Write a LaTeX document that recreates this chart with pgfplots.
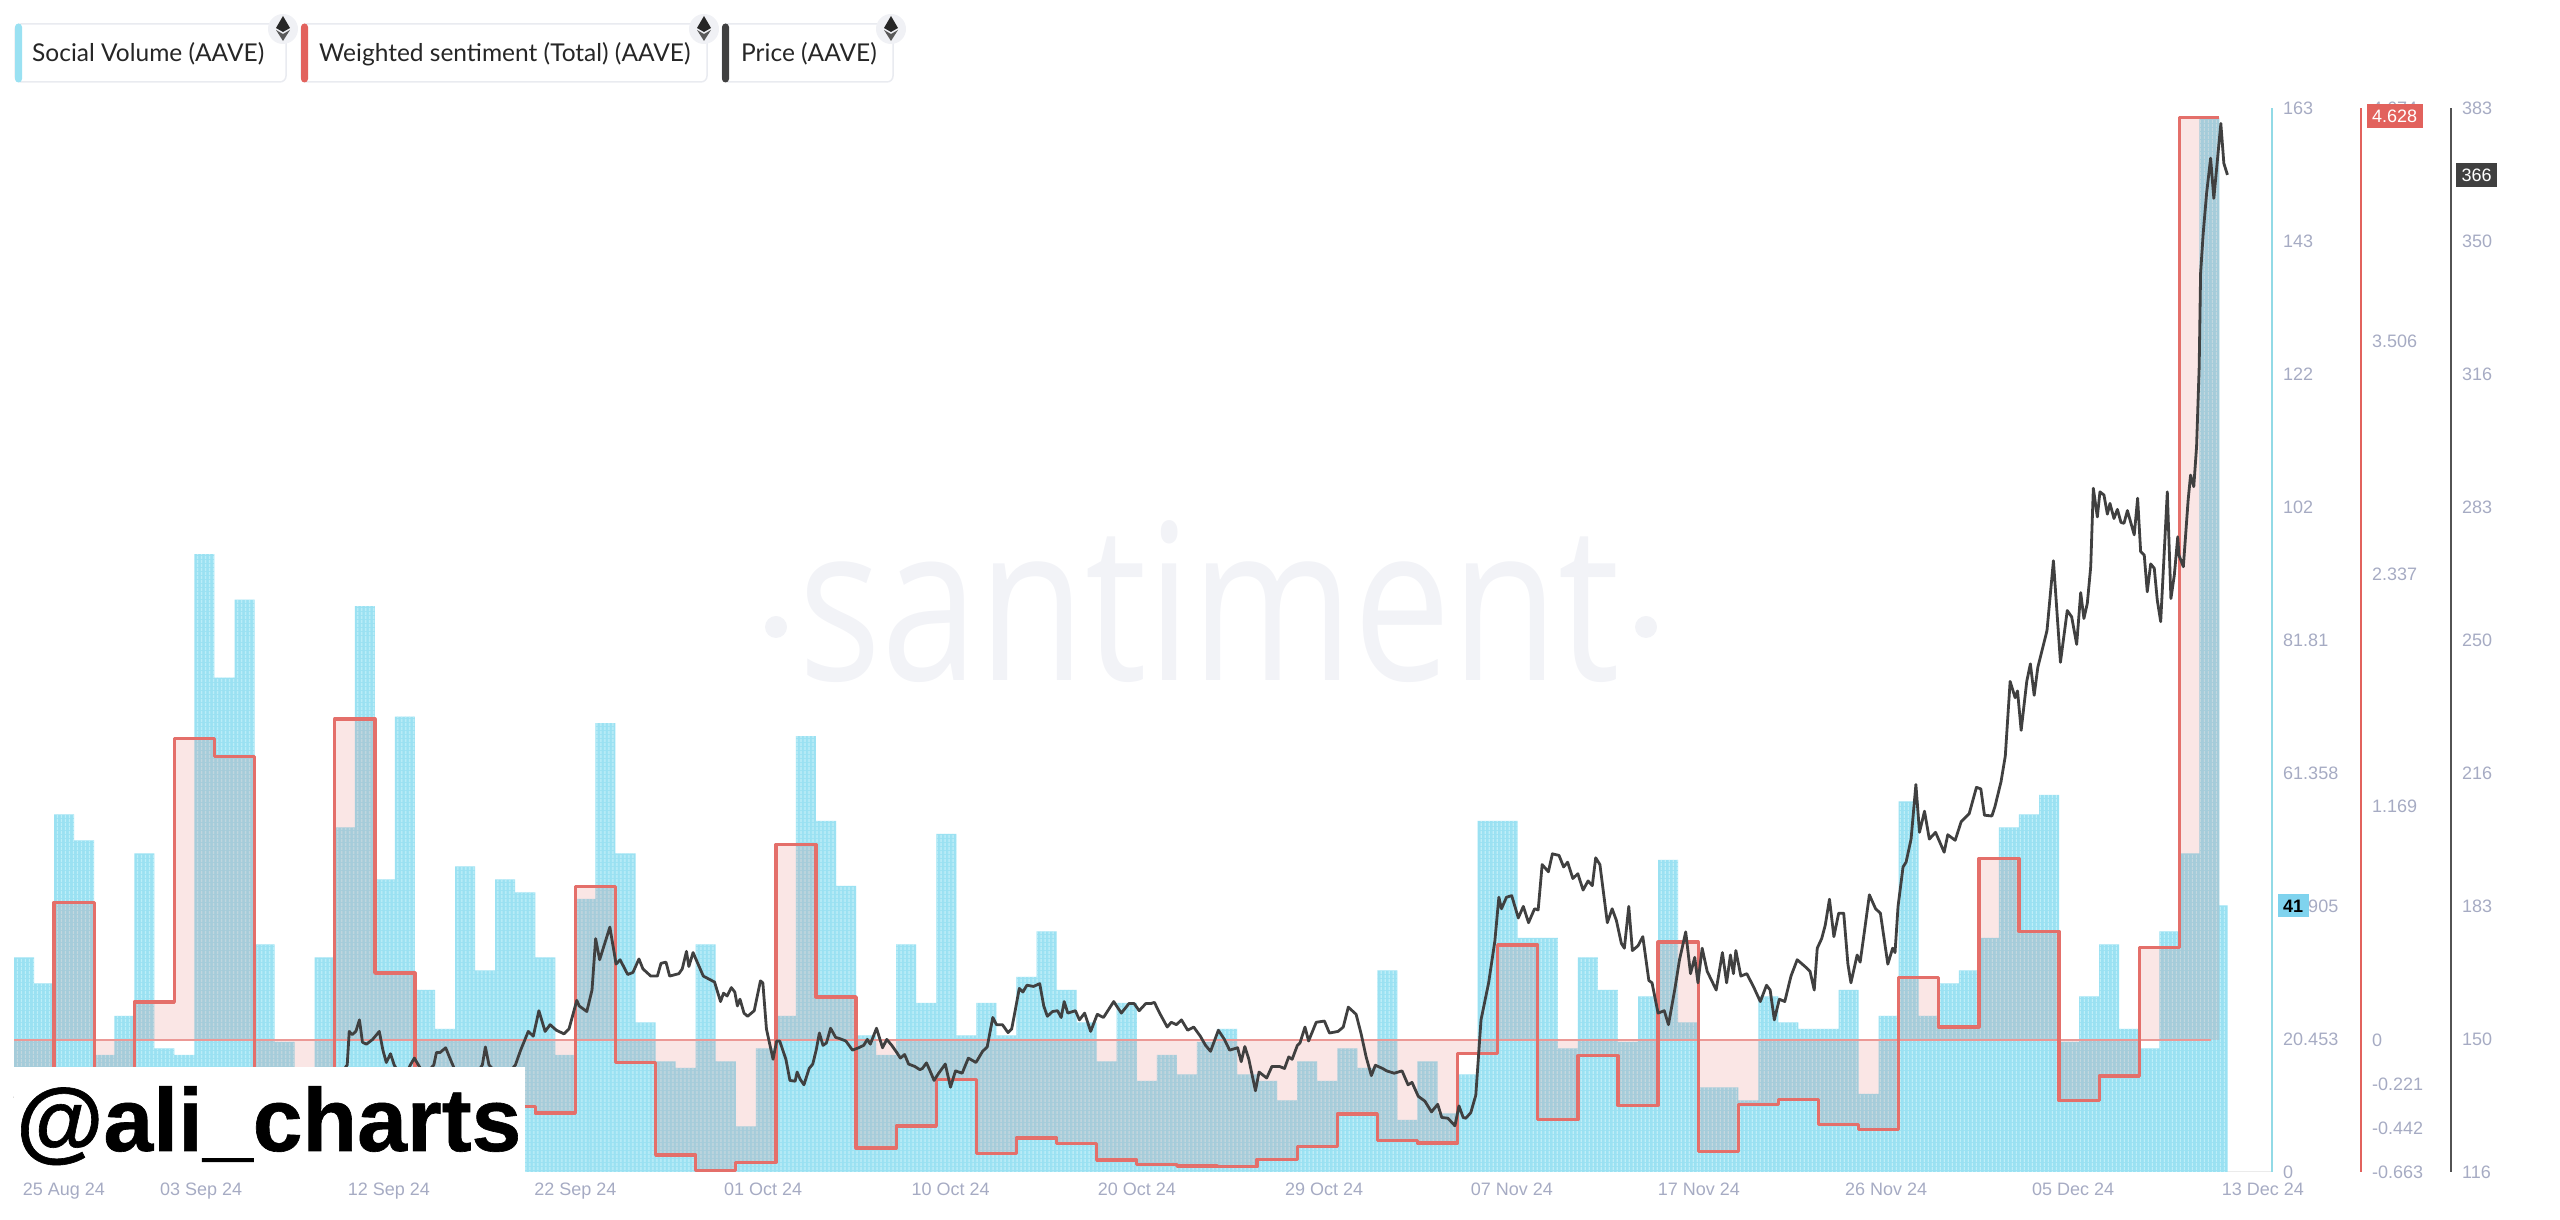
\documentclass[border=0pt]{standalone}
\usepackage{fontspec}
\setmainfont{Liberation Sans}
\newfontfamily\legfont{Lato}
\newfontfamily\wmfont{Open Sans}
\newfontfamily\alifont{Liberation Sans Bold}[FakeBold=0.7]
\usepackage{pgfplots}
\pgfplotsset{compat=1.18}
\usetikzlibrary{patterns.meta}
\definecolor{tickc}{HTML}{A6ABC3}
\definecolor{barc}{HTML}{9AE1F2}
\definecolor{barl}{HTML}{BDEFF9}
\definecolor{redc}{HTML}{E2625D}
\definecolor{darkc}{HTML}{404040}
\definecolor{axc}{HTML}{92DAE6}
\definecolor{cardc}{HTML}{E9EBF0}
\definecolor{badgec}{HTML}{7FD3EE}
\definecolor{wmc}{HTML}{F2F3F7}
\pgfplotsset{
  base/.style={scale only axis, anchor=south west, at={(14pt,48pt)}, height=1064pt,
    xmin=0, clip=false,
    major tick length=0pt, minor tick length=0pt,
    tick label style={font=\fontsize{18}{20}\selectfont, text=tickc},
    yticklabel style={anchor=west, inner sep=0pt, xshift=11pt}},
}
\newcommand{\ethicon}[2]{%
  \fill[cardc!70] (#1pt,#2pt) circle (15pt);
  \fill[black!85] (#1pt,#2pt+13pt) -- (#1pt+7pt,#2pt+1pt) -- (#1pt,#2pt-3pt) -- (#1pt-7pt,#2pt+1pt) -- cycle;
  \fill[black!65] (#1pt,#2pt-5pt) -- (#1pt+7pt,#2pt-1pt) -- (#1pt,#2pt-12pt) -- (#1pt-7pt,#2pt-1pt) -- cycle;
}
\begin{document}
\begin{tikzpicture}[x=1pt,y=1pt]
\path[use as bounding box] (0,0) rectangle (2560,1220);
% watermark
\node[font=\wmfont\fontsize{218}{240}\selectfont, text=wmc, xscale=0.8, anchor=base] at (1209,539) {santiment};
\fill[wmc] (776,593) circle (11);
\fill[wmc] (1646,593) circle (11);

% Social volume
\begin{axis}[base, width=2258pt, xmax=112.62, ymin=0, ymax=163.6,
  axis y line=right, axis x line=bottom, axis line style={-}, 
  y axis line style={axc, line width=1.6pt, -},
  x axis line style={black!8, line width=1pt, -},
  ytick={0,20.453,40.905,61.358,81.81,102.26,122.71,143.16,163.6},
  yticklabels={0,20.453,40.905,61.358,81.81,102,122,143,163},
  xtick={2.49,9.33,18.70,28.0,37.36,46.71,56.01,65.34,74.71,84.04,93.37,102.7,112.17},
  xticklabels={25 Aug 24,03 Sep 24,12 Sep 24,22 Sep 24,01 Oct 24,10 Oct 24,20 Oct 24,29 Oct 24,07 Nov 24,17 Nov 24,26 Nov 24,05 Dec 24,13 Dec 24},
  xticklabel style={inner sep=0pt, yshift=-11pt, anchor=north},
]
\pgfplotsset{
 socialdata/.style={const plot mark left, mark=none, draw=none}}
\def\socialcoords{(0,0) (0,33) (1,29) (2,55) (3,51) (4,18) (5,24) (6,49) (7,19) (8,18) (9,95) (10,76) (11,88) (12,35) (13,20) (14,10) (15,33) (16,53) (17,87) (18,45) (19,70) (20,28) (21,22) (22,47) (23,31) (24,45) (25,43) (26,33) (27,18) (28,42) (29,69) (30,49) (31,23) (32,17) (33,16) (34,35) (35,17) (36,7) (37,19) (38,24) (39,67) (40,54) (41,44) (42,21) (43,18) (44,35) (45,26) (46,52) (47,21) (48,26) (49,21) (50,30) (51,37) (52,28) (53,23) (54,17) (55,26) (56,14) (57,18) (58,15) (59,20) (60,22) (61,15) (62,14) (63,11) (64,17) (65,14) (66,19) (67,16) (68,31) (69,8) (70,17) (71,9) (72,15) (73,54) (74,54) (75,36) (76,36) (77,19) (78,33) (79,28) (80,20) (81,27) (82,48) (83,23) (84,13) (85,13) (86,11) (87,27) (88,23) (89,22) (90,22) (91,28) (92,12) (93,24) (94,57) (95,24) (96,29) (97,31) (98,36) (99,53) (100,55) (101,58) (102,20) (103,27) (104,35) (105,22) (106,19) (107,37) (108,49) (109,162) (110,41) (110.4,41) (110.4,0)}
\edef\tmp{\noexpand\addplot[socialdata, fill=barc] coordinates {\socialcoords};}\tmp
\edef\tmp{\noexpand\addplot[socialdata, pattern={Lines[angle=90,distance=4pt,line width=1.1pt]}, pattern color=barl] coordinates {\socialcoords};}\tmp
\end{axis}

% Weighted sentiment
\begin{axis}[base, width=2347pt, xmax=117.06, ymin=-0.663, ymax=4.674,
  axis y line=right, axis x line=none, y axis line style={redc, line width=1.8pt, -},
  ytick={-0.663,-0.442,-0.221,0,1.169,2.337,3.506,4.674},
  yticklabels={-0.663,-0.442,-0.221,0,1.169,2.337,3.506,4.674},
]
\addplot[const plot mark left, mark=none, draw=none, fill=redc, fill opacity=0.16] coordinates {(0,0) (0,-0.4) (2,0.69) (4,-0.3) (6,0.19) (8,1.51) (10,1.42) (12,-0.3) (16,1.61) (18,0.335) (20,-0.3) (25,-0.333) (26,-0.367) (28,0.77) (30,-0.113) (32,-0.577) (34,-0.656) (36,-0.614) (38,0.98) (40,0.215) (42,-0.543) (44,-0.432) (46,-0.2) (48,-0.57) (50,-0.492) (52,-0.52) (54,-0.603) (56,-0.626) (58,-0.633) (60,-0.637) (62,-0.60) (64,-0.536) (66,-0.372) (68,-0.506) (70,-0.517) (72,-0.07) (74,0.476) (76,-0.40) (78,-0.08) (80,-0.328) (82,0.49) (84,-0.561) (86,-0.323) (88,-0.30) (90,-0.425) (92,-0.45) (94,0.314) (96,0.065) (98,0.91) (100,0.545) (102,-0.305) (104,-0.182) (106,0.462) (108,4.628) (110,4.628) (110,0)};
\addplot[mark=none, draw=redc!65, line width=2.4pt] coordinates {(0,0) (109.6,0)};
\addplot[const plot mark left, mark=none, draw=redc!92, line width=3.3pt, line join=round] coordinates {(0,-0.4) (2,0.69) (4,-0.3) (6,0.19) (8,1.51) (10,1.42) (12,-0.3) (16,1.61) (18,0.335) (20,-0.3) (25,-0.333) (26,-0.367) (28,0.77) (30,-0.113) (32,-0.577) (34,-0.656) (36,-0.614) (38,0.98) (40,0.215) (42,-0.543) (44,-0.432) (46,-0.2) (48,-0.57) (50,-0.492) (52,-0.52) (54,-0.603) (56,-0.626) (58,-0.633) (60,-0.637) (62,-0.60) (64,-0.536) (66,-0.372) (68,-0.506) (70,-0.517) (72,-0.07) (74,0.476) (76,-0.40) (78,-0.08) (80,-0.328) (82,0.49) (84,-0.561) (86,-0.323) (88,-0.30) (90,-0.425) (92,-0.45) (94,0.314) (96,0.065) (98,0.91) (100,0.545) (102,-0.305) (104,-0.182) (106,0.462) (108,4.628) (110,4.628)};
\end{axis}

% Price
\begin{axis}[base, width=2437pt, xmax=121.55, ymin=116, ymax=383.2,
  axis y line=right, axis x line=none, y axis line style={darkc!90, line width=2.4pt, -},
  ytick={116,149.4,182.8,216.2,249.6,283,316.4,349.8,383.2},
  yticklabels={116,150,183,216,250,283,316,350,383},
]
\addplot[mark=none, draw=darkc, line width=2.8pt, line join=round] coordinates {
(0,135) (5,130) (10,132) (15.6,135.6) (16.62,142.9) (16.72,151.3) (16.87,150.5) (17.05,151.3) (17.23,154.2) (17.38,148.6) (17.58,148.1) (17.89,149.3) (18.22,151.3) (18.40,146.6) (18.57,143.5) (18.78,145.7) (18.96,142.9) (19.41,139.0) (19.77,142.9) (19.97,144.6) (20.48,140.2) (20.94,142.9) (21.07,146.0) (21.25,146.0) (21.53,147.2) (21.83,143.5) (21.96,142.0) (22.72,137.9) (23.36,142.9) (23.51,147.4) (23.69,142.9) (24.38,139.0) (25.01,142.9) (25.27,146.6) (25.65,151.3) (25.90,150.1) (26.18,156.5) (26.49,151.3) (26.74,153.0) (27.05,151.6) (27.43,150.7) (27.68,151.9) (28.07,159.1) (28.19,157.7) (28.57,156.3) (28.83,161.7) (29.01,174.6) (29.21,169.3) (29.72,177.5) (30.03,168.2) (30.23,169.3) (30.61,165.6) (30.87,166.1) (31.17,169.5) (31.37,167.0) (31.76,165.2) (32.09,165.2) (32.27,168.4) (32.52,168.7) (32.70,165.2) (33.16,165.8) (33.33,167.0) (33.54,171.4) (33.66,167.6) (33.87,171.1) (34.38,165.2) (34.94,163.7) (35.24,158.8) (35.39,160.9) (35.57,160.2) (35.78,162.3) (35.95,161.2) (36.08,157.7) (36.21,159.4) (36.41,155.9) (36.59,155.1) (36.92,156.5) (37.23,164.0) (37.35,163.5) (37.53,151.9) (37.86,144.3) (38.04,148.9) (38.19,148.9) (38.50,144.3) (38.70,139.0) (38.96,138.8) (39.06,141.1) (39.21,139.3)
(39.40,137.9) (39.66,142.0) (39.84,143.1) (40.01,146.6) (40.17,150.9) (40.35,147.8) (40.52,148.4) (40.73,152.1) (40.98,149.8) (41.18,149.5) (41.49,148.9) (41.82,146.6) (42.13,147.2) (42.38,147.8) (42.56,149.3) (42.71,148.1) (43.02,152.1) (43.32,147.2) (43.53,149.3) (43.78,147.8) (44.03,146.0) (44.21,144.6) (44.42,145.5) (44.62,143.1) (44.93,142.5) (45.18,141.7) (45.31,142.0) (45.51,143.4) (45.69,141.4) (45.89,139.0) (46.12,140.8) (46.45,143.1) (46.71,137.3) (46.96,141.4) (47.29,140.8) (47.60,144.6) (47.98,143.5) (48.31,146.3) (48.54,147.4) (48.82,154.8) (49.00,153.0) (49.30,153.0) (49.58,151.0) (49.76,151.9) (49.89,155.3) (50.14,162.1) (50.32,161.2) (50.52,162.9) (50.85,162.6) (51.16,163.3) (51.36,157.7) (51.54,155.1) (51.80,156.3) (52.05,156.5) (52.23,154.8) (52.38,158.8) (52.56,155.9) (52.94,156.5) (53.14,154.2) (53.40,155.9) (53.70,151.3) (54.03,155.6) (54.34,154.8) (54.85,158.8) (55.23,155.9) (55.61,158.3) (55.87,158.3) (56.12,156.5) (56.45,158.3) (56.71,158.3) (56.88,158.6) (57.14,155.9) (57.52,152.4) (57.72,153.6) (57.98,153.0) (58.23,154.2) (58.54,151.6) (58.84,152.4) (59.17,150.1) (59.43,147.8) (59.68,146.3) (60.07,151.6) (60.37,149.3) (60.63,146.6) (61.03,147.2) (61.21,143.7) (61.39,147.5) (61.59,144.3) (61.92,136.4) (62.10,141.1) (62.48,139.6) (62.74,142.5) (63.12,142.5) (63.37,142.0) (63.58,144.9) (63.75,144.3) (64.01,147.8) (64.14,148.4) (64.39,152.4) (64.57,148.9) (64.95,153.6) (65.36,153.9) (65.61,150.9) (66.04,151.3) (66.30,152.4) (66.55,157.4) (66.94,155.6) (67.19,150.7) (67.44,144.9) (67.70,140.2) (67.90,142.8) (68.26,142.0) (68.46,141.4) (68.84,140.8) (69.23,141.4) (69.53,137.9) (69.73,138.5) (70.04,135.0) (70.37,133.8) (70.70,131.1) (71.01,133.0) (71.21,129.7) (71.52,129.5) (71.87,127.6) (72.07,132.6) (72.28,129.7) (72.41,129.5) (72.66,130.9) (72.91,135.3) (73.17,154.2) (73.55,163.5) (73.86,174.0) (74.06,185.0) (74.19,182.1) (74.44,185.0) (74.70,185.4) (75.03,179.8) (75.28,182.7) (75.54,178.6) (75.84,182.1) (76.02,181.8) (76.22,193.2) (76.53,191.4) (76.73,195.9) (77.06,195.5) (77.29,192.6) (77.49,193.8) (77.75,189.7) (78.00,190.9) (78.26,186.8) (78.51,189.1) (78.72,187.9) (78.89,194.9) (79.10,193.2)
(79.47,178.6) (79.71,182.1) (79.92,179.2) (80.17,173.4) (80.32,172.2) (80.54,182.7) (80.72,171.6) (81.0,172.8) (81.24,175.1) (81.54,164.1) (81.70,163.5) (82.0,155.9) (82.31,156.5) (82.52,153.0) (82.83,161.7) (83.07,169.3) (83.38,176.3) (83.62,165.8) (83.83,169.9) (83.99,163.5) (84.20,172.2) (84.45,166.4) (84.90,161.7) (85.21,171.1) (85.42,163.5) (85.61,170.5) (85.76,165.8) (85.88,171.6) (86.13,165.2) (86.43,165.8) (86.80,162.1) (87.10,158.8) (87.41,162.9) (87.59,161.7) (87.80,154.2) (88.05,159.4) (88.32,158.8) (88.63,165.2) (88.94,169.3) (89.33,167.6) (89.58,166.4) (89.79,161.7) (89.94,172.2) (90.16,174.6) (90.34,178.0) (90.55,184.5) (90.77,175.1) (91.01,181.0) (91.26,181.0) (91.47,168.2) (91.62,163.5) (91.93,170.5) (92.08,168.7) (92.29,176.3) (92.54,185.6) (92.85,182.1) (93.09,181.0) (93.46,168.2) (93.70,172.2) (93.82,171.1) (93.97,182.7) (94.22,192.6) (94.37,193.8) (94.62,199.6) (94.86,213.3) (95.04,201.3) (95.29,206.6) (95.53,199.6) (95.84,201.3) (96.27,196.3) (96.45,200.7) (96.82,199.3) (97.12,204.0) (97.52,206.0) (97.88,212.6) (98.10,212.2) (98.28,205.6) (98.65,205.4) (98.80,207.7) (99.11,214.1) (99.32,220.5) (99.56,239.2) (99.81,235.1) (99.93,236.8) (100.11,226.9) (100.39,239.2) (100.57,243.6) (100.76,235.7) (100.94,242.7)
(101.40,252.0) (101.72,269.5) (102.07,244.0) (102.41,257.0) (102.63,255.4) (102.88,248.5) (103.08,261.5) (103.24,255.0) (103.41,258.8) (103.58,268.0) (103.71,287.7) (103.91,280.5) (104.04,286.8) (104.24,286.0) (104.41,281.2) (104.54,283.9) (104.74,280.1) (104.91,282.4) (105.09,279.1) (105.24,278.9) (105.41,282.1) (105.75,276.0) (105.92,285.2) (106.07,271.8) (106.25,270.9) (106.40,261.7) (106.57,268.7) (106.75,267.6) (106.90,259.6) (107.07,254.2) (107.40,286.8) (107.58,260.0) (107.75,265.9) (107.92,275.5) (107.98,270.9) (108.20,268.0) (108.44,284.8) (108.56,291.0) (108.72,288.1) (108.86,298.2) (108.99,318.2) (109.06,341.7) (109.19,351.7) (109.36,361.8) (109.56,370.6) (109.72,360.5) (110.07,379.3) (110.22,369.3) (110.40,366.4)};
\end{axis}

% white box and handle
\fill[white] (14,48) rectangle (525,153);
\node[font=\alifont\fontsize{89.5}{100}\selectfont, anchor=base west, inner sep=0pt] at (16,69) {@ali\_charts};

% value badges
\fill[badgec] (2278,302.6) rectangle (2308.5,325.5);
\node[font=\bfseries\fontsize{18}{20}\selectfont, text=black] at (2293.2,314) {41};
\fill[redc] (2367,1092) rectangle (2422.5,1116);
\node[font=\fontsize{18}{20}\selectfont, text=white] at (2394.7,1104) {4.628};
\fill[darkc] (2456,1033) rectangle (2497,1057);
\node[font=\fontsize{18}{20}\selectfont, text=white] at (2476.5,1045) {366};

% legend cards
\foreach \xa/\xb/\cc in {15/286/barc, 301/707/redc, 722/893/darkc}{
  \draw[cardc, fill=white, line width=1.5pt, rounded corners=6pt] (\xa,1138) rectangle (\xb,1196);
  \fill[\cc, rounded corners=3.5pt] (\xa,1137.5) rectangle (\xa+7,1196.5);
}
\node[font=\legfont\fontsize{24.5}{28}\selectfont, text=black!85, anchor=base west, inner sep=0pt] at (32,1158) {Social Volume (AAVE)};
\node[font=\legfont\fontsize{24.5}{28}\selectfont, text=black!85, anchor=base west, inner sep=0pt] at (319,1158) {Weighted sentiment (Total) (AAVE)};
\node[font=\legfont\fontsize{24.5}{28}\selectfont, text=black!85, anchor=base west, inner sep=0pt] at (741,1158) {Price (AAVE)};
\ethicon{283}{1191}
\ethicon{704}{1191}
\ethicon{891}{1191}
\end{tikzpicture}
\end{document}
